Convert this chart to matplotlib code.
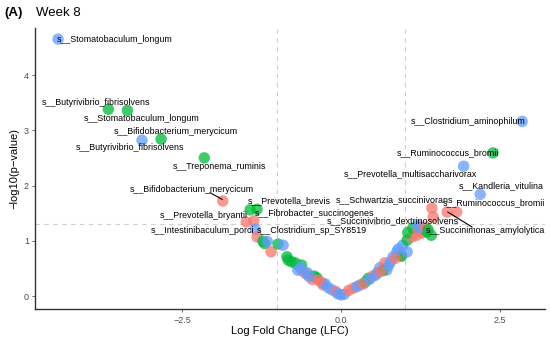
import matplotlib.pyplot as plt

plt.rcParams['font.family'] = ['Liberation Sans', 'DejaVu Sans']

# points: log fold change, -log10(p), group colour
lfc = [-4.45, -3.66, -3.36, -3.13, -2.83, -2.15, -1.86, -1.43, -1.32, -1.49,
       -1.37, -1.35, -1.32, -1.23, -1.20, -1.16, -1.10, -0.99, -0.91, -0.85,
       -0.83, -0.72, -0.62, -0.68, -0.60, -0.55, -0.53, -0.38, -0.42, -0.45,
       -0.30, -0.28, -0.25, -0.20, -0.14, -0.08, -0.05, 0.00, 0.05, 0.12,
       0.19, 0.25, 0.30, 0.38, 0.43, 0.50, 0.57, 0.61, 0.72, 0.69,
       0.66, 0.82, 0.88, 0.95, 0.95, 1.04, 0.97, 1.04, 1.12, 1.05,
       1.19, 1.13, 1.21, 1.21, 1.28, 1.35, 1.24, 1.32, 1.37, 1.42,
       1.43, 1.45, 1.67, 1.82, 2.19, 1.93, 2.39, 2.85,
       -0.50, -0.35, -0.65, -0.78, 0.35, 0.45, 0.55, 0.63, 0.75, 0.78,
       0.85, 0.90]
logp = [4.65, 3.38, 3.36, 2.82, 2.84, 2.50, 1.72, 1.56, 1.57, 1.34,
        1.36, 1.21, 1.07, 0.99, 0.95, 0.99, 0.80, 0.94, 0.92, 0.71,
        0.65, 0.60, 0.56, 0.47, 0.45, 0.40, 0.42, 0.33, 0.36, 0.30,
        0.24, 0.20, 0.22, 0.15, 0.11, 0.08, 0.04, 0.02, 0.03, 0.10,
        0.14, 0.17, 0.20, 0.25, 0.32, 0.36, 0.42, 0.51, 0.47, 0.60,
        0.46, 0.71, 0.80, 0.74, 0.72, 0.80, 0.92, 1.01, 1.07, 1.15,
        1.10, 1.23, 1.19, 1.28, 1.14, 1.16, 1.24, 1.25, 1.20, 1.10,
        1.59, 1.43, 1.52, 1.52, 1.84, 2.35, 2.59, 3.16,
        0.35, 0.28, 0.52, 0.62, 0.22, 0.30, 0.38, 0.45, 0.55, 0.62,
        0.68, 0.85]
group = ['B', 'G', 'G', 'B', 'G', 'G', 'R', 'G', 'G', 'R',
         'R', 'B', 'R', 'G', 'G', 'B', 'R', 'G', 'B', 'G',
         'G', 'G', 'G', 'B', 'B', 'R', 'B', 'G', 'G', 'R',
         'R', 'R', 'B', 'B', 'B', 'R', 'B', 'B', 'B', 'R',
         'R', 'B', 'B', 'G', 'G', 'R', 'R', 'B', 'B', 'R',
         'G', 'B', 'B', 'R', 'G', 'B', 'B', 'G', 'R', 'G',
         'R', 'G', 'R', 'B', 'R', 'G', 'B', 'R', 'G', 'G',
         'R', 'R', 'R', 'R', 'B', 'B', 'G', 'B',
         'B', 'R', 'B', 'G', 'R', 'B', 'B', 'R', 'B', 'B',
         'R', 'B']

# labels (text, left x, y) as placed by the repel layout
label_text = ['s__Stomatobaculum_longum', 's__Butyrivibrio_fibrisolvens',
              's__Stomatobaculum_longum', 's__Bifidobacterium_merycicum',
              's__Butyrivibrio_fibrisolvens', 's__Treponema_ruminis',
              's__Bifidobacterium_merycicum', 's__Prevotella_brevis',
              's__Prevotella_bryantii', 's__Fibrobacter_succinogenes',
              's__Intestinibaculum_porci', 's__Clostridium_sp_SY8519',
              's__Clostridium_aminophilum', 's__Ruminococcus_bromii',
              's__Prevotella_multisaccharivorax', 's__Kandleria_vitulina',
              's__Schwartzia_succinivorans', 's__Ruminococcus_bromii',
              's__Succinivibrio_dextrinosolvens', 's__Succinimonas_amylolytica']
label_x = [-4.47, -4.70, -4.04, -3.57, -4.17, -2.64, -3.32, -1.46, -2.85, -1.35,
           -3.00, -1.32, 1.10, 0.88, 0.05, 1.86, -0.08, 1.60, -0.22, 1.34]
label_y = [4.65, 3.51, 3.22, 2.97, 2.69, 2.35, 1.93, 1.72, 1.46, 1.50,
           1.19, 1.19, 3.15, 2.59, 2.21, 1.99, 1.75, 1.68, 1.37, 1.18]

colors = {'R': '#F8766D', 'G': '#00BA38', 'B': '#619CFF'}

fig = plt.figure(figsize=(5.5, 3.38), dpi=100)
ax = fig.add_axes([0.064, 0.085, 0.927, 0.832])

ax.axvline(-1, color='#CFCFCF', linestyle=(0, (4, 4)), linewidth=0.8, zorder=0)
ax.axvline(1, color='#CFCFCF', linestyle=(0, (4, 4)), linewidth=0.8, zorder=0)
ax.axhline(1.3, color='#CFCFCF', linestyle=(0, (4, 4)), linewidth=0.8, zorder=0)

ax.scatter(lfc, logp, s=68, c=[colors[g] for g in group], alpha=0.75,
           edgecolors='none', zorder=2)

for t, x, y in zip(label_text, label_x, label_y):
    ax.text(x, y, t, fontsize=6.4, ha='left', va='center', color='black', zorder=3)

# repel segments
ax.plot([-2.06, -1.87], [1.87, 1.75], color='black', linewidth=0.8, zorder=3)
ax.plot([1.68, 2.06], [1.52, 1.25], color='black', linewidth=0.8, zorder=3)

ax.set_xlim(-4.81, 3.21)
ax.set_ylim(-0.24, 4.85)
ax.set_xticks([-2.5, 0.0, 2.5])
ax.set_xticklabels(['\u22122.5', '0.0', '2.5'])
ax.set_yticks([0, 1, 2, 3, 4])
ax.tick_params(colors='#4D4D4D', labelsize=6.5, length=2.5, width=0.6, pad=2)
for s in ['top', 'right']:
    ax.spines[s].set_visible(False)
for s in ['left', 'bottom']:
    ax.spines[s].set_linewidth(1.0)
    ax.spines[s].set_color('#333333')

ax.set_xlabel('Log Fold Change (LFC)', fontsize=8, labelpad=1)
ax.set_ylabel('\u2212log10(p\u2212value)', fontsize=8, labelpad=3)

fig.text(0.008, 0.962, '(A)', fontsize=9.5, fontweight='bold', va='center')
fig.text(0.066, 0.962, 'Week 8', fontsize=9.5, va='center')

fig.savefig('out.png', dpi=100)
